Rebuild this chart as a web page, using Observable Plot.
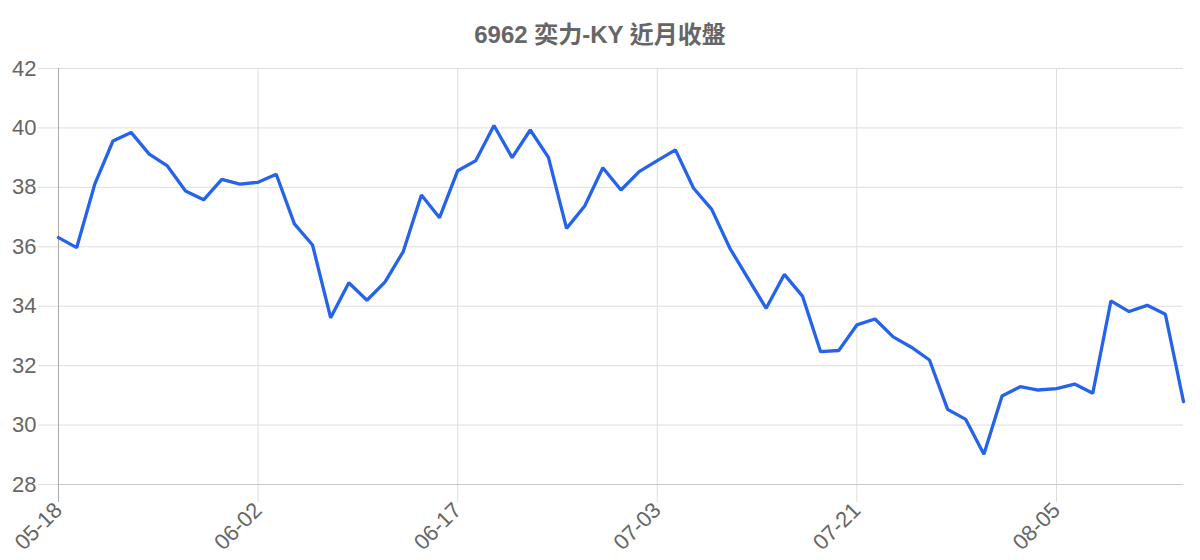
<!DOCTYPE html>
<html><head><meta charset="utf-8">
<script src="https://cdn.jsdelivr.net/npm/d3@7"></script>
<script src="https://cdn.jsdelivr.net/npm/@observablehq/plot@0.6"></script>
<style>
body{margin:0;background:#fff;}
#title{height:56px;position:relative;}
#title span{position:absolute;left:0;right:0;top:35px;transform:translateY(-50%);text-align:center;font:bold 24px "Liberation Sans","Noto Sans CJK TC",sans-serif;color:#666;white-space:nowrap;line-height:1;}
</style></head><body>
<div id="title"><span></span></div>
<div id="chart"></div>
<script>
const title = "6962 奕力-KY 近月收盤";
const closes = [36.31, 35.97, 38.11, 39.56, 39.85, 39.12, 38.72, 37.88, 37.58, 38.27, 38.11, 38.17, 38.44,
  36.77, 36.06, 33.61, 34.79, 34.2, 34.82, 35.84, 37.74, 36.98, 38.56,
  38.9, 40.08, 39.0, 39.93, 39.01, 36.62, 37.37, 38.66, 37.91, 38.53, 38.9, 39.26, 37.97,
  37.26, 35.95, 34.94, 33.93, 35.07, 34.34, 32.47, 32.51, 33.37, 33.57, 32.97,
  32.62, 32.19, 30.53, 30.19, 29.02, 30.98, 31.29, 31.18, 31.23, 31.38, 31.07, 34.18, 33.82, 34.03, 33.73, 30.79];
const tickLabels = ["05-18", "06-02", "06-17", "07-03", "07-21", "08-05"];
const labelStep = 11;
const yDomain = [28, 42];
const yTicks = [28, 30, 32, 34, 36, 38, 40, 42];

document.querySelector("#title span").textContent = title;
const xTicks = tickLabels.map((_, k) => k * labelStep);

const chart = Plot.plot({
  width: 1200, height: 504,
  marginTop: 12, marginBottom: 76, marginLeft: 58, marginRight: 17,
  style: {fontFamily: "'Liberation Sans', 'Noto Sans CJK TC', sans-serif", fontSize: "22px", color: "#666", background: "#fff"},
  x: {type: "linear", domain: [0, closes.length - 1]},
  y: {domain: yDomain},
  marks: [
    Plot.gridY(yTicks, {stroke: "#dddddd", strokeOpacity: 1}),
    Plot.gridX(xTicks, {stroke: "#dddddd", strokeOpacity: 1}),
    Plot.axisY(yTicks, {tickSize: 20, tickPadding: 2, stroke: "#dddddd", strokeOpacity: 1, fill: "#666", fontSize: 22, tickFormat: d => d, label: null}),
    Plot.axisX(xTicks, {tickSize: 18, tickPadding: 4, stroke: "#dddddd", strokeOpacity: 1, fill: "#666", fontSize: 22, tickRotate: -45, tickFormat: i => tickLabels[i / labelStep], label: null}),
    Plot.ruleY([yDomain[0]], {stroke: "#c8c8c8"}),
    Plot.ruleX([0], {stroke: "#aaaaaa"}),
    Plot.axisX([0], {tickSize: 18, stroke: "#aaaaaa", strokeOpacity: 1, tickFormat: () => "", label: null}),
    Plot.line(closes, {x: (d, i) => i, y: d => d, stroke: "#2563eb", strokeWidth: 3.3, strokeLinejoin: "miter"})
  ]
});
document.getElementById("chart").appendChild(chart);
</script>
</body></html>
